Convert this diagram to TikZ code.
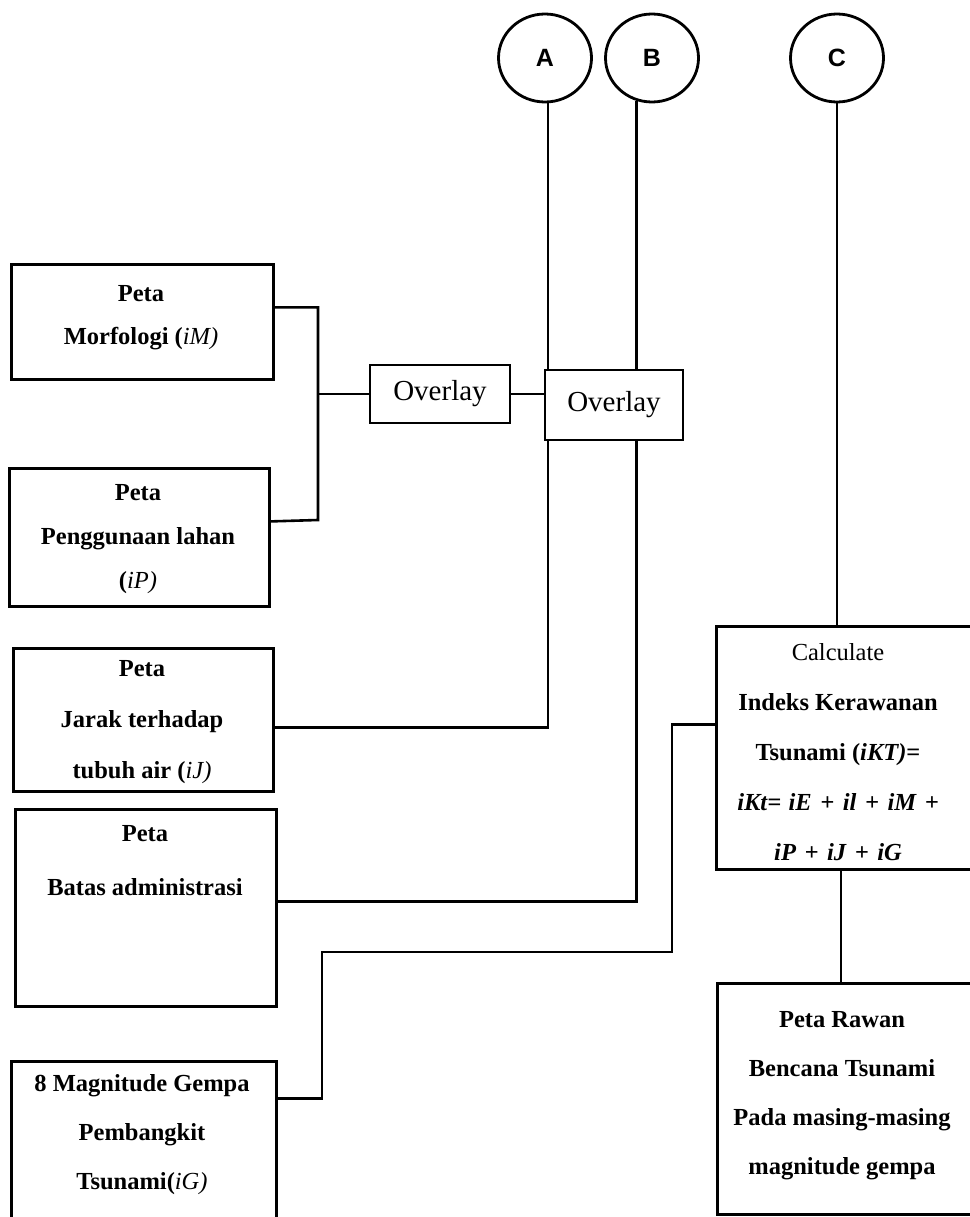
\documentclass[tikz,border=0pt]{standalone}
\usepackage{fontspec}
\usetikzlibrary{shapes.geometric}
\setmainfont{Liberation Serif}
\setsansfont{Liberation Sans}
\newcommand{\pl}{\hspace{0.35em}+\hspace{0.35em}}
\begin{document}
\begin{tikzpicture}[x=1pt,y=-1pt,
  box/.style={draw, line width=2.8pt, inner sep=0pt, anchor=north west, fill=white},
  txt/.style={align=center, inner sep=0pt, font=\bfseries\fontsize{24.5}{#1}\selectfont},
  ovl/.style={draw, line width=2.6pt, inner sep=0pt, fill=white, font=\fontsize{29}{34}\selectfont},
  circ/.style={draw, ellipse, line width=2.8pt, minimum width=93pt, minimum height=88pt, inner sep=0pt, font=\sffamily\bfseries\fontsize{25}{30}\selectfont},
  conn/.style={line width=2.6pt}
]
\useasboundingbox (0,0) rectangle (969,1217);

% circles
\node[circ] (A) at (545,58) {A};
\node[circ] (B) at (652,58) {B};
\node[circ] (C) at (837,58) {C};

% left boxes
\node[box, minimum width=262pt, minimum height=115pt] (morf) at (10,263) {};
\node[txt=43pt] (morft) at (141,318) {Peta\\Morfologi (\textit{\mdseries iM)}};

\node[box, minimum width=260pt, minimum height=138pt] (peng) at (8,467) {};
\node[txt=44pt] (pengt) at (138,539) {Peta\\Penggunaan lahan\\(\textit{\mdseries iP)}};

\node[box, minimum width=260pt, minimum height=143pt] (jarak) at (12,647) {};
\node[txt=51pt] (jarakt) at (142,722) {Peta\\Jarak terhadap\\tubuh air (\textit{\mdseries iJ)}};

\node[box, minimum width=261pt, minimum height=197pt] (batas) at (14,808) {};
\node[txt=54pt] (batast) at (145,861) {Peta\\Batas administrasi};

\node[box, minimum width=265pt, minimum height=180pt] (mag) at (10,1060) {};
\node[txt=49pt] (magt) at (142,1135) {8 Magnitude Gempa\\Pembangkit\\Tsunami(\textit{\mdseries iG)}};

% overlays
\node[ovl, minimum width=140pt, minimum height=58pt] (o1) at (440,394) {Overlay};
\node[ovl, minimum width=138pt, minimum height=70pt] (o2) at (614,405) {Overlay};

% right boxes
\node[box, minimum width=290pt, minimum height=243pt] (calc) at (715,625) {};
\node[txt=50pt] (calct) at (838,752) {\mdseries Calculate\\Indeks Kerawanan\\Tsunami (\textit{iKT)}=\\\textit{iKt=\hspace{0.3em}iE\pl il\pl iM\hspace{0.35em}+}\\\textit{iP\pl iJ\pl iG}};

\node[box, minimum width=290pt, minimum height=231pt] (rawan) at (716,982) {};
\node[txt=49pt] (rawant) at (842,1096) {Peta Rawan\\Bencana Tsunami\\Pada masing-masing\\magnitude gempa};

% helper coordinates
\coordinate (brb) at (318,520);
\coordinate (k1) at (672,952);
\coordinate (k2) at (322,952);
\coordinate (rv) at (841,0);

% connectors
\draw[conn] ([yshift=14.5pt]morf.east) -| (brb) -- ([yshift=16pt]peng.east);
\draw[conn] (o1.west) -- (o1.west -| brb);
\draw[conn] (o1.east) -- (o1.east -| o2.west);
\draw[conn] (A.-86) -- (A.-86 |- o2.north);
\draw[conn] (A.-86 |- o2.south) |- ([yshift=-7.5pt]jarak.east);
\draw[conn] (B.-110) -- (B.-110 |- o2.north);
\draw[conn] (B.-110 |- o2.south) |- ([yshift=6.5pt]batas.east);
\draw[conn] (C.south) -- (C.south |- calc.north);
\draw[conn] ([yshift=23.5pt]calc.west) -| (k1) -- (k2) |- ([yshift=53pt]mag.east);
\draw[conn] (calc.south -| rv) -- (rawan.north -| rv);
\end{tikzpicture}
\end{document}
